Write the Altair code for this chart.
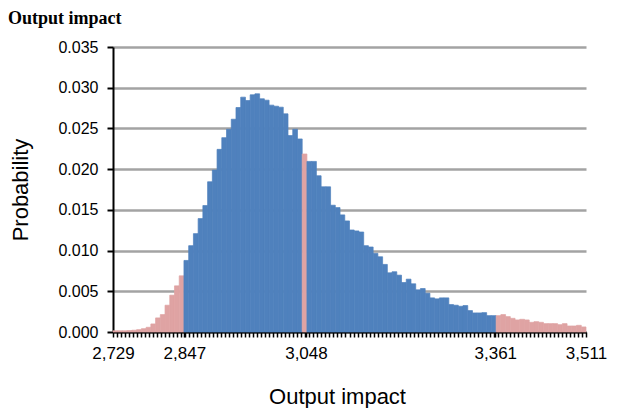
import altair as alt
import numpy as np
import pandas as pd

# ---- data ----
x_min, x_max = 2729, 3511
n_bins = 100
probability = [
    0.00015, 0.00015, 0.00015, 0.00018, 0.00022, 0.00029, 0.00041, 0.00058, 0.00099, 0.00173,
    0.00214, 0.00329, 0.00452, 0.00567, 0.00690, 0.00879, 0.01060, 0.01208, 0.01393, 0.01553,
    0.01845, 0.01989, 0.02243, 0.02387, 0.02490, 0.02613, 0.02757, 0.02884, 0.02843, 0.02913,
    0.02925, 0.02864, 0.02847, 0.02786, 0.02773, 0.02761, 0.02679, 0.02412, 0.02490, 0.02371,
    0.02186, 0.02095, 0.02095, 0.01919, 0.01783, 0.01783, 0.01557, 0.01528, 0.01438, 0.01364,
    0.01253, 0.01241, 0.01228, 0.01060, 0.01044, 0.00966, 0.00924, 0.00830, 0.00727, 0.00740,
    0.00698, 0.00608, 0.00649, 0.00592, 0.00518, 0.00534, 0.00477, 0.00419, 0.00407, 0.00419,
    0.00419, 0.00337, 0.00329, 0.00316, 0.00325, 0.00263, 0.00234, 0.00234, 0.00238, 0.00201,
    0.00201, 0.00201, 0.00214, 0.00189, 0.00168, 0.00148, 0.00156, 0.00148, 0.00119, 0.00127,
    0.00119, 0.00103, 0.00103, 0.00103, 0.00090, 0.00103, 0.00074, 0.00074, 0.00082, 0.00062,
]
# highlighted (pink) bins: lower tail, mean bin, upper tail
region = (["tail"] * 15 + ["body"] * 25 + ["tail"] * 1 + ["body"] * 40 + ["tail"] * 19)
x_labels = [2729, 2847, 3048, 3361, 3511]
y_ticks = [0, 0.005, 0.010, 0.015, 0.020, 0.025, 0.030, 0.035]

edges = np.linspace(x_min, x_max, n_bins + 1)
df = pd.DataFrame({
    "start": edges[:-1],
    "end": edges[1:],
    "p": probability,
    "region": region,
})

minor_ticks = list(np.linspace(x_min, x_max, 119))
tick_values = sorted(set([float(v) for v in minor_ticks] + [float(v) for v in x_labels]))
label_set = "[" + ",".join(str(v) for v in x_labels) + "]"

FONT = "Liberation Sans"
color_scale = alt.Scale(domain=["body", "tail"], range=["#4F81BD", "#DFA3A3"])

chart = alt.Chart(df).mark_bar(strokeWidth=0.7).encode(
    x=alt.X("start:Q",
            scale=alt.Scale(domain=[x_min, x_max], nice=False, zero=False),
            axis=alt.Axis(
                title="Output impact",
                values=tick_values,
                labelExpr=f"indexof({label_set}, datum.value) >= 0 ? format(datum.value, ',') : ''",
                labelOverlap=False,
                labelFlush=False,
                grid=False,
                tickColor="black", tickWidth=1.5, tickSize=5,
                domainColor="black", domainWidth=2,
                labelFont=FONT, labelFontSize=17, labelColor="black", labelPadding=8,
                titleFont=FONT, titleFontSize=22, titleFontWeight="normal", titleColor="black",
                titlePadding=25, titleX=224,
            )),
    x2="end:Q",
    y=alt.Y("p:Q",
            scale=alt.Scale(domain=[0, 0.035], nice=False),
            axis=alt.Axis(
                title="Probability",
                values=y_ticks,
                format=".3f",
                grid=True, gridColor="#a3a3a3", gridWidth=2.5,
                tickColor="black", tickWidth=2, tickSize=6,
                domainColor="black", domainWidth=2,
                labelFont=FONT, labelFontSize=16, labelColor="black", labelPadding=9,
                titleFont=FONT, titleFontSize=22, titleFontWeight="normal", titleColor="black",
                titlePadding=25,
            )),
    y2=alt.datum(0),
    color=alt.Color("region:N", scale=color_scale, legend=None),
    stroke=alt.Stroke("region:N", scale=color_scale, legend=None),
).properties(
    width=473,
    height=285,
    title=alt.TitleParams(
        text="Output impact", anchor="start", frame="group", dx=-105, offset=11,
        font="Liberation Serif", fontSize=18, fontWeight="bold", color="black",
    ),
    autosize=alt.AutoSizeParams(type="none"),
    padding={"left": 105, "top": 39, "right": 23, "bottom": 76},
).configure_view(stroke=None)

chart.save("out.html", embed_options={"renderer": "svg", "actions": False})
